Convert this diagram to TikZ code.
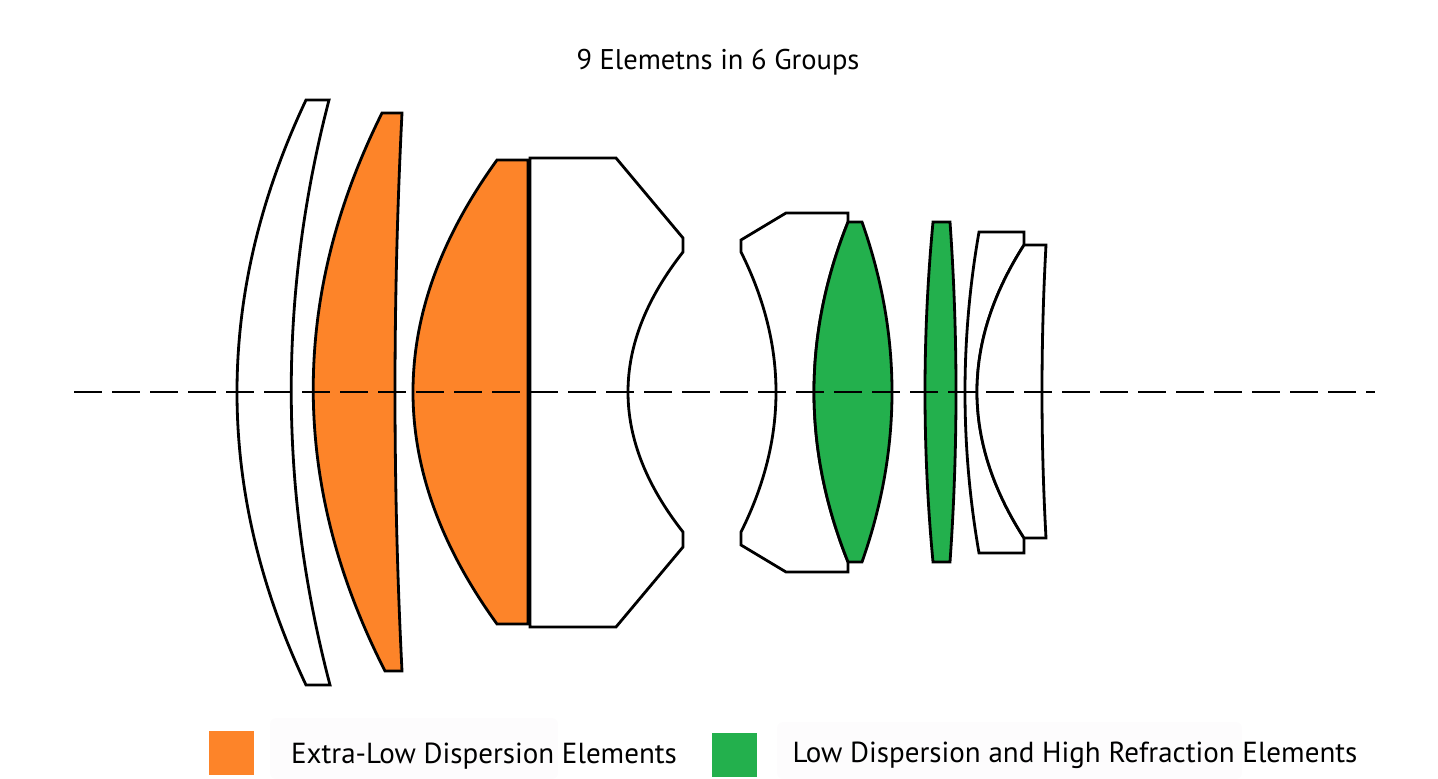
\documentclass[tikz,border=0pt]{standalone}
\usepackage{fontspec}
\setmainfont{PT Sans}
\usetikzlibrary{calc}
\definecolor{xorange}{HTML}{FD8429}
\definecolor{xgreen}{HTML}{23B04D}
\definecolor{boxbg}{HTML}{FDFCFD}
\begin{document}
\begin{tikzpicture}[x=1pt,y=-1pt,
  lens/.style={draw=black,line width=2.8pt,line join=miter},
  lbl/.style={font=\fontsize{29}{33}\selectfont,inner sep=0pt},
  sw/.style={minimum width=45pt,minimum height=44pt,inner sep=0pt}]
\useasboundingbox (0,0) rectangle (1438,779);
\node[lbl,font=\fontsize{28.5}{32}\selectfont] (title) at (718,62) {9 Elemetns in 6 Groups};
% lenses (quadratic curves through apex on axis)
\path[lens,fill=white] (306,100)--(329,100)
  .. controls ($(329,100)!0.6667!(253,392)$) and ($(330,685)!0.6667!(253,392)$) .. (330,685) -- (306,685)
  .. controls ($(306,685)!0.6667!(168,392)$) and ($(306,100)!0.6667!(168,392)$) .. (306,100) -- cycle;
\path[lens,fill=xorange] (382,113)--(402,113)
  .. controls ($(402,113)!0.6667!(388,392)$) and ($(402,671)!0.6667!(388,392)$) .. (402,671) -- (385,671)
  .. controls ($(385,671)!0.6667!(243,392)$) and ($(382,113)!0.6667!(243,392)$) .. (382,113) -- cycle;
\path[lens,fill=xorange] (497,160)--(528,160)--(528,624)--(497,624)
  .. controls ($(497,624)!0.6667!(329,392)$) and ($(497,160)!0.6667!(329,392)$) .. (497,160) -- cycle;
\path[lens,fill=white] (530,158)--(616,158)--(683,238)--(683,252)
  .. controls ($(683,252)!0.6667!(573,392)$) and ($(683,532)!0.6667!(573,392)$) .. (683,532)
  -- (683,547) -- (616,627) -- (530,627) -- cycle;
\path[lens,fill=white] (741,240)--(786,213)--(848,213)--(848,222)
  .. controls ($(848,222)!0.6667!(780,392)$) and ($(848,562)!0.6667!(780,392)$) .. (848,562)
  -- (848,572) -- (786,572) -- (741,545) -- (741,532)
  .. controls ($(741,532)!0.6667!(811,392)$) and ($(741,252)!0.6667!(811,392)$) .. (741,252) -- cycle;
\path[lens,fill=xgreen] (848,222)--(862,222)
  .. controls ($(862,222)!0.6667!(922,392)$) and ($(862,562)!0.6667!(922,392)$) .. (862,562) -- (848,562)
  .. controls ($(848,562)!0.6667!(780,392)$) and ($(848,222)!0.6667!(780,392)$) .. (848,222) -- cycle;
\path[lens,fill=xgreen] (933,222)--(950,222)
  .. controls ($(950,222)!0.6667!(962,392)$) and ($(950,562)!0.6667!(962,392)$) .. (950,562) -- (933,562)
  .. controls ($(933,562)!0.6667!(917,392)$) and ($(933,222)!0.6667!(917,392)$) .. (933,222) -- cycle;
\path[lens,fill=white] (979,232)--(1024,232)--(1024,245)
  .. controls ($(1024,245)!0.6667!(930,392)$) and ($(1024,538)!0.6667!(930,392)$) .. (1024,538)
  -- (1024,553) -- (979,553)
  .. controls ($(979,553)!0.6667!(951,392)$) and ($(979,232)!0.6667!(951,392)$) .. (979,232) -- cycle;
\path[lens,fill=white] (1024,245)--(1046,245)
  .. controls ($(1046,245)!0.6667!(1038,392)$) and ($(1046,538)!0.6667!(1038,392)$) .. (1046,538) -- (1024,538)
  .. controls ($(1024,538)!0.6667!(930,392)$) and ($(1024,245)!0.6667!(930,392)$) .. (1024,245) -- cycle;
% axis
\coordinate (a1) at (74,392);
\coordinate (a2) at (1375,392);
\draw[line width=2.6pt,dash pattern=on 28pt off 10pt] (a1) -- (a2);
% legend
\fill[boxbg,rounded corners=6pt] (270,718) rectangle (558,779);
\fill[boxbg,rounded corners=6pt] (777,722) rectangle (1242,779);
\node[sw,fill=xorange] (s1) at (231.5,753) {};
\node[sw,fill=xgreen] (s2) at (734.5,754.5) {};
\node[lbl] (t1) at (484,756) {Extra-Low Dispersion Elements};
\node[lbl] (t2) at (1075,755) {Low Dispersion and High Refraction Elements};
\end{tikzpicture}
\end{document}
